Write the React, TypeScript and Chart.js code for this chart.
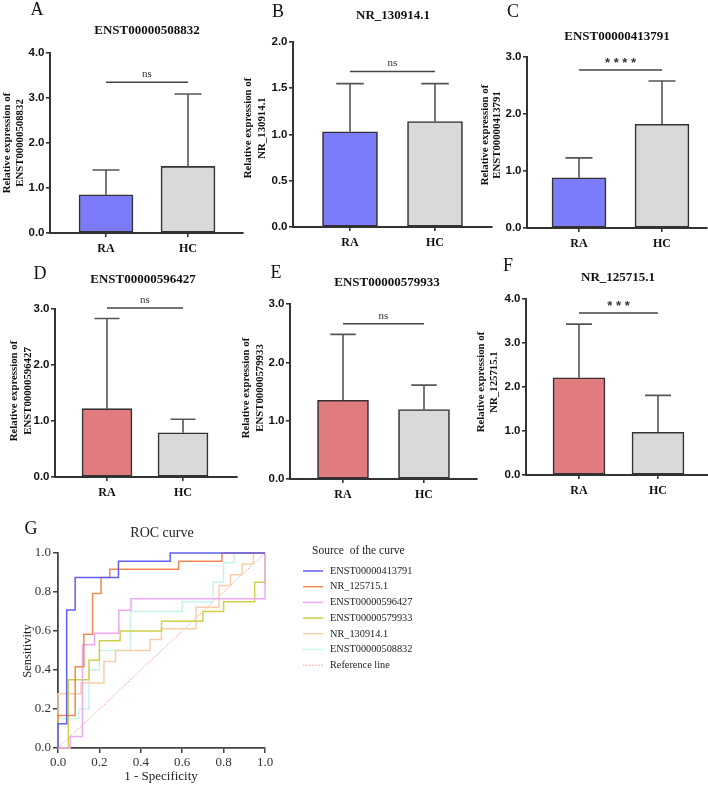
import React, { useEffect, useRef } from 'react';
import { Chart, registerables } from 'chart.js';

Chart.register(...registerables);

const W = 708;
const H = 785;
const SERIF = '"Liberation Serif", "Times New Roman", serif';
const SANS = '"Liberation Sans", Arial, sans-serif';

// ---------------- data ----------------
const groups = ['RA', 'HC'];
const yTitlePrefix = 'Relative expression of';

const titleA = 'ENST00000508832';
const meansA = [0.85, 1.48];
const sdA = [0.55, 1.61];
const sigA = 'ns';
const sigLevelA = 3.35;
const yMaxA = 4;
const yStepA = 1;

const titleB = 'NR_130914.1';
const meansB = [1.03, 1.14];
const sdB = [0.52, 0.41];
const sigB = 'ns';
const sigLevelB = 1.68;
const yMaxB = 2;
const yStepB = 0.5;

const titleC = 'ENST00000413791';
const meansC = [0.88, 1.82];
const sdC = [0.35, 0.76];
const sigC = '****';
const sigLevelC = 2.77;
const yMaxC = 3;
const yStepC = 1;

const titleD = 'ENST00000596427';
const meansD = [1.22, 0.79];
const sdD = [1.61, 0.24];
const sigD = 'ns';
const sigLevelD = 3.02;
const yMaxD = 3;
const yStepD = 1;

const titleE = 'ENST00000579933';
const meansE = [1.35, 1.19];
const sdE = [1.13, 0.42];
const sigE = 'ns';
const sigLevelE = 2.66;
const yMaxE = 3;
const yStepE = 1;

const titleF = 'NR_125715.1';
const meansF = [2.21, 0.97];
const sdF = [1.22, 0.84];
const sigF = '***';
const sigLevelF = 3.68;
const yMaxF = 4;
const yStepF = 1;

const blueBar = '#7C7CFB';
const redBar = '#E07C7F';
const grayBar = '#D9D9D9';

// ROC curves (1 - specificity, sensitivity) step knots
const rocLabels = [
  'ENST00000413791',
  'NR_125715.1',
  'ENST00000596427',
  'ENST00000579933',
  'NR_130914.1',
  'ENST00000508832',
];
const roc413791X = [0, 0, 0.042, 0.083, 0.292, 0.542, 1];
const roc413791Y = [0, 0.125, 0.708, 0.875, 0.958, 1, 1];
const roc125715X = [0, 0, 0.083, 0.125, 0.167, 0.208, 0.25, 0.583, 0.792, 1];
const roc125715Y = [0, 0.167, 0.417, 0.583, 0.792, 0.875, 0.917, 0.958, 1, 1];
const roc596427X = [0, 0.059, 0.118, 0.176, 0.294, 0.353, 1, 1];
const roc596427Y = [0, 0.059, 0.529, 0.588, 0.706, 0.765, 0.765, 1];
const roc579933X = [0, 0.05, 0.15, 0.2, 0.3, 0.5, 0.7, 0.8, 0.95, 1];
const roc579933Y = [0, 0.35, 0.45, 0.55, 0.6, 0.65, 0.7, 0.75, 0.85, 1];
const roc130914X = [0, 0, 0.111, 0.222, 0.278, 0.444, 0.5, 0.667, 0.778, 0.833, 0.889, 0.944, 1];
const roc130914Y = [0, 0.278, 0.333, 0.444, 0.5, 0.556, 0.611, 0.722, 0.833, 0.889, 0.944, 1, 1];
const roc508832X = [0, 0, 0.1, 0.15, 0.2, 0.35, 0.6, 0.75, 0.8, 0.85, 1];
const roc508832Y = [0, 0.15, 0.2, 0.4, 0.5, 0.7, 0.75, 0.85, 0.95, 1, 1];
const refLineX = [0, 1];
const refLineY = [0, 1];
const rocColors = ['#5F5FF6', '#EE8A52', '#ECAAF2', '#CFCF4A', '#F6CFA8', '#C6F4E8'];
const refColor = '#F09A9A';

// ---------------- bar panel ----------------
type PanelProps = {
  title: string;
  means: number[];
  sds: number[];
  colors: string[];
  sig: string;
  sigLevel: number;
  yMax: number;
  yStep: number;
  // layout
  axisL: number; axisR: number; top: number; bottom: number;
  c0: number; c1: number; barW: number;
  letter: string; letterX: number; letterY: number;
  titleX: number; titleY: number;
  ytX1: number; ytX2: number; ytY: number;
};

const YW = 40;
const XH = 30;

function BarPanel(p: PanelProps) {
  const ref = useRef<HTMLCanvasElement>(null);
  useEffect(() => {
    const unit = p.c1 - p.c0;
    const xmin = -(p.c0 - p.axisL) / unit;
    const xmax = 1 + (p.axisR - p.c1) / unit;
    const decor = {
      id: 'decor',
      afterDatasetsDraw(chart: any) {
        const ctx = chart.ctx;
        const y = chart.scales.y;
        const x = chart.scales.x;
        const meta = chart.getDatasetMeta(0);
        ctx.save();
        ctx.strokeStyle = '#555';
        ctx.lineWidth = 1.6;
        meta.data.forEach((bar: any, i: number) => {
          const topPx = y.getPixelForValue(p.means[i] + p.sds[i]);
          const cap = p.barW * 0.25;
          ctx.beginPath();
          ctx.moveTo(bar.x, bar.y);
          ctx.lineTo(bar.x, topPx);
          ctx.moveTo(bar.x - cap, topPx);
          ctx.lineTo(bar.x + cap, topPx);
          ctx.stroke();
        });
        // significance
        const sy = y.getPixelForValue(p.sigLevel);
        ctx.strokeStyle = '#444';
        ctx.lineWidth = 1.5;
        ctx.beginPath();
        ctx.moveTo(x.getPixelForValue(0), sy);
        ctx.lineTo(x.getPixelForValue(1), sy);
        ctx.stroke();
        ctx.fillStyle = '#333';
        ctx.textAlign = 'center';
        ctx.textBaseline = 'middle';
        if (p.sig === 'ns') {
          ctx.font = `11px ${SERIF}`;
          ctx.fillText(p.sig, (x.getPixelForValue(0) + x.getPixelForValue(1)) / 2, sy - 8);
        } else {
          ctx.font = `bold 13px ${SANS}`;
          ctx.fillText(p.sig.split('').join(' '), (x.getPixelForValue(0) + x.getPixelForValue(1)) / 2, sy - 7);
        }
        ctx.restore();
      },
      afterDraw(chart: any) {
        const ctx = chart.ctx;
        ctx.save();
        ctx.fillStyle = '#111';
        ctx.textAlign = 'center';
        ctx.textBaseline = 'middle';
        ctx.font = `18px ${SERIF}`;
        ctx.fillText(p.letter, p.letterX, p.letterY);
        ctx.font = `bold 13px ${SERIF}`;
        ctx.fillText(p.title, p.titleX, p.titleY);
        ctx.font = `bold 10.8px ${SERIF}`;
        const lines = [yTitlePrefix, p.title];
        const xs = [p.ytX1, p.ytX2];
        lines.forEach((t, i) => {
          ctx.save();
          ctx.translate(xs[i], p.ytY);
          ctx.rotate(-Math.PI / 2);
          ctx.fillText(t, 0, 0);
          ctx.restore();
        });
        ctx.restore();
      },
    };
    const axisGrid = {
      display: true,
      drawOnChartArea: false,
      drawTicks: true,
      tickLength: 4,
      color: '#333',
      lineWidth: 1.6,
      offset: false,
    };
    const chart = new Chart(ref.current as HTMLCanvasElement, {
      type: 'bar',
      data: {
        datasets: [
          {
            data: p.means.map((v, i) => ({ x: i, y: v })),
            backgroundColor: p.colors,
            borderColor: '#333',
            borderWidth: 1.6,
            borderSkipped: false,
            barThickness: p.barW,
          } as any,
        ],
      },
      options: {
        animation: false,
        responsive: false,
        maintainAspectRatio: false,
        layout: {
          padding: {
            left: p.axisL - YW,
            top: p.top,
            right: W - p.axisR,
            bottom: H - p.bottom - XH,
          },
        },
        plugins: { legend: { display: false }, tooltip: { enabled: false } },
        scales: {
          x: {
            type: 'linear',
            min: xmin,
            max: xmax,
            offset: false,
            afterBuildTicks: (s: any) => {
              s.ticks = groups.map((_, i) => ({ value: i }));
            },
            afterFit: (s: any) => {
              s.height = XH;
            },
            ticks: {
              callback: (v: any) => groups[Math.round(Number(v))],
              font: { family: SERIF, weight: 'bold', size: 12 },
              color: '#111',
              padding: 5,
              maxRotation: 0,
              autoSkip: false,
            },
            grid: axisGrid,
            border: { display: true, color: '#333', width: 2 },
          } as any,
          y: {
            min: 0,
            max: p.yMax,
            afterFit: (s: any) => {
              s.width = YW;
            },
            ticks: {
              stepSize: p.yStep,
              callback: (v: any) => Number(v).toFixed(1),
              font: { family: SANS, weight: 'bold', size: 11.5 },
              color: '#111',
              padding: 1.5,
            },
            grid: axisGrid,
            border: { display: true, color: '#333', width: 2 },
          } as any,
        },
      },
      plugins: [decor],
    });
    return () => chart.destroy();
  }, []);
  return (
    <canvas
      ref={ref}
      width={W}
      height={H}
      style={{ position: 'absolute', left: 0, top: 0, width: W, height: H }}
    />
  );
}

// ---------------- ROC panel ----------------
function RocPanel() {
  const ref = useRef<HTMLCanvasElement>(null);
  useEffect(() => {
    const axisL = 58;
    const axisR = 265;
    const top = 553;
    const bottom = 748;
    const xs = [roc413791X, roc125715X, roc596427X, roc579933X, roc130914X, roc508832X];
    const ys = [roc413791Y, roc125715Y, roc596427Y, roc579933Y, roc130914Y, roc508832Y];
    const datasets: any[] = xs.map((xArr, k) => ({
      label: rocLabels[k],
      data: xArr.map((x, i) => ({ x, y: ys[k][i] })),
      borderColor: rocColors[k],
      borderWidth: 1.5,
      pointRadius: 0,
      fill: false,
      stepped: 'before',
      clip: 4,
    }));
    datasets.push({
      label: 'Reference line',
      data: refLineX.map((x, i) => ({ x, y: refLineY[i] })),
      borderColor: refColor,
      borderWidth: 1,
      borderDash: [1.5, 1.5],
      pointRadius: 0,
      fill: false,
      clip: 4,
    });
    const decor = {
      id: 'rocDecor',
      afterDraw(chart: any) {
        const ctx = chart.ctx;
        ctx.save();
        ctx.fillStyle = '#111';
        ctx.textAlign = 'center';
        ctx.textBaseline = 'middle';
        ctx.font = `18px ${SERIF}`;
        ctx.fillText('G', 31, 529);
        ctx.fillStyle = '#222';
        ctx.font = `14px ${SERIF}`;
        ctx.fillText('ROC curve', 162, 533);
        ctx.font = `13px ${SERIF}`;
        ctx.fillText('1 - Specificity', 161, 777);
        ctx.save();
        ctx.translate(28, 651);
        ctx.rotate(-Math.PI / 2);
        ctx.font = `12.5px ${SERIF}`;
        ctx.fillText('Sensitivity', 0, 0);
        ctx.restore();
        // legend
        ctx.textAlign = 'left';
        ctx.font = `11.5px ${SERIF}`;
        ctx.fillStyle = '#222';
        ctx.fillText('Source  of the curve', 312, 551);
        ctx.font = `10.3px ${SERIF}`;
        const labels = [...rocLabels, 'Reference line'];
        labels.forEach((lab, i) => {
          const yy = 571 + i * 15.7;
          const col = i < rocColors.length ? rocColors[i] : refColor;
          ctx.strokeStyle = col;
          ctx.lineWidth = i < rocColors.length ? 1.5 : 1;
          ctx.setLineDash(i < rocColors.length ? [] : [1.5, 1.5]);
          ctx.beginPath();
          ctx.moveTo(303, yy);
          ctx.lineTo(323, yy);
          ctx.stroke();
          ctx.fillStyle = '#222';
          ctx.fillText(lab, 330, yy);
        });
        ctx.restore();
      },
    };
    const axisGrid = {
      display: true,
      drawOnChartArea: false,
      drawTicks: true,
      tickLength: 5,
      color: '#444',
      lineWidth: 1.5,
    };
    const tickFont = { family: SERIF, size: 13 };
    const chart = new Chart(ref.current as HTMLCanvasElement, {
      type: 'line',
      data: { datasets },
      options: {
        animation: false,
        responsive: false,
        maintainAspectRatio: false,
        layout: {
          padding: { left: axisL - 45, top, right: W - axisR, bottom: H - bottom - 25 },
        },
        plugins: { legend: { display: false }, tooltip: { enabled: false } },
        scales: {
          x: {
            type: 'linear',
            min: 0,
            max: 1,
            afterFit: (s: any) => {
              s.height = 25;
            },
            ticks: {
              stepSize: 0.2,
              callback: (v: any) => Number(v).toFixed(1),
              font: tickFont,
              color: '#333',
              padding: 2,
              maxRotation: 0,
            },
            grid: axisGrid,
            border: { display: true, color: '#444', width: 1.8 },
          } as any,
          y: {
            type: 'linear',
            min: 0,
            max: 1,
            afterFit: (s: any) => {
              s.width = 45;
            },
            ticks: {
              stepSize: 0.2,
              callback: (v: any) => Number(v).toFixed(1),
              font: tickFont,
              color: '#333',
              padding: 2,
            },
            grid: axisGrid,
            border: { display: true, color: '#444', width: 1.8 },
          } as any,
        },
      },
      plugins: [decor],
    });
    return () => chart.destroy();
  }, []);
  return (
    <canvas
      ref={ref}
      width={W}
      height={H}
      style={{ position: 'absolute', left: 0, top: 0, width: W, height: H }}
    />
  );
}

export default function App() {
  return (
    <div style={{ position: 'absolute', left: 0, top: 0, width: W, height: H, background: '#fff', overflow: 'hidden' }}>
      <BarPanel
        title={titleA} means={meansA} sds={sdA} colors={[blueBar, grayBar]}
        sig={sigA} sigLevel={sigLevelA} yMax={yMaxA} yStep={yStepA}
        axisL={50} axisR={243} top={53} bottom={233} c0={106} c1={188} barW={54}
        letter="A" letterX={37} letterY={10} titleX={147} titleY={31}
        ytX1={7} ytX2={20} ytY={143}
      />
      <BarPanel
        title={titleB} means={meansB} sds={sdB} colors={[blueBar, grayBar]}
        sig={sigB} sigLevel={sigLevelB} yMax={yMaxB} yStep={yStepB}
        axisL={293} axisR={492} top={42} bottom={227} c0={350} c1={435} barW={55}
        letter="B" letterX={278} letterY={12} titleX={393} titleY={16}
        ytX1={248} ytX2={262} ytY={128}
      />
      <BarPanel
        title={titleC} means={meansC} sds={sdC} colors={[blueBar, grayBar]}
        sig={sigC} sigLevel={sigLevelC} yMax={yMaxC} yStep={yStepC}
        axisL={527} axisR={707} top={57} bottom={228} c0={579} c1={662} barW={54}
        letter="C" letterX={513} letterY={12} titleX={617} titleY={37}
        ytX1={485} ytX2={497} ytY={135}
      />
      <BarPanel
        title={titleD} means={meansD} sds={sdD} colors={[redBar, grayBar]}
        sig={sigD} sigLevel={sigLevelD} yMax={yMaxD} yStep={yStepD}
        axisL={55} axisR={237} top={309} bottom={477} c0={107} c1={183} barW={50}
        letter="D" letterX={40} letterY={274} titleX={143} titleY={280}
        ytX1={14} ytX2={28} ytY={391}
      />
      <BarPanel
        title={titleE} means={meansE} sds={sdE} colors={[redBar, grayBar]}
        sig={sigE} sigLevel={sigLevelE} yMax={yMaxE} yStep={yStepE}
        axisL={290} axisR={477} top={304} bottom={479} c0={343} c1={424} barW={51}
        letter="E" letterX={276} letterY={273} titleX={387} titleY={283}
        ytX1={246} ytX2={260} ytY={388}
      />
      <BarPanel
        title={titleF} means={meansF} sds={sdF} colors={[redBar, grayBar]}
        sig={sigF} sigLevel={sigLevelF} yMax={yMaxF} yStep={yStepF}
        axisL={526} axisR={708} top={299} bottom={475} c0={579} c1={658} barW={52}
        letter="F" letterX={508} letterY={266} titleX={618} titleY={278}
        ytX1={481} ytX2={494} ytY={382}
      />
      <RocPanel />
    </div>
  );
}
